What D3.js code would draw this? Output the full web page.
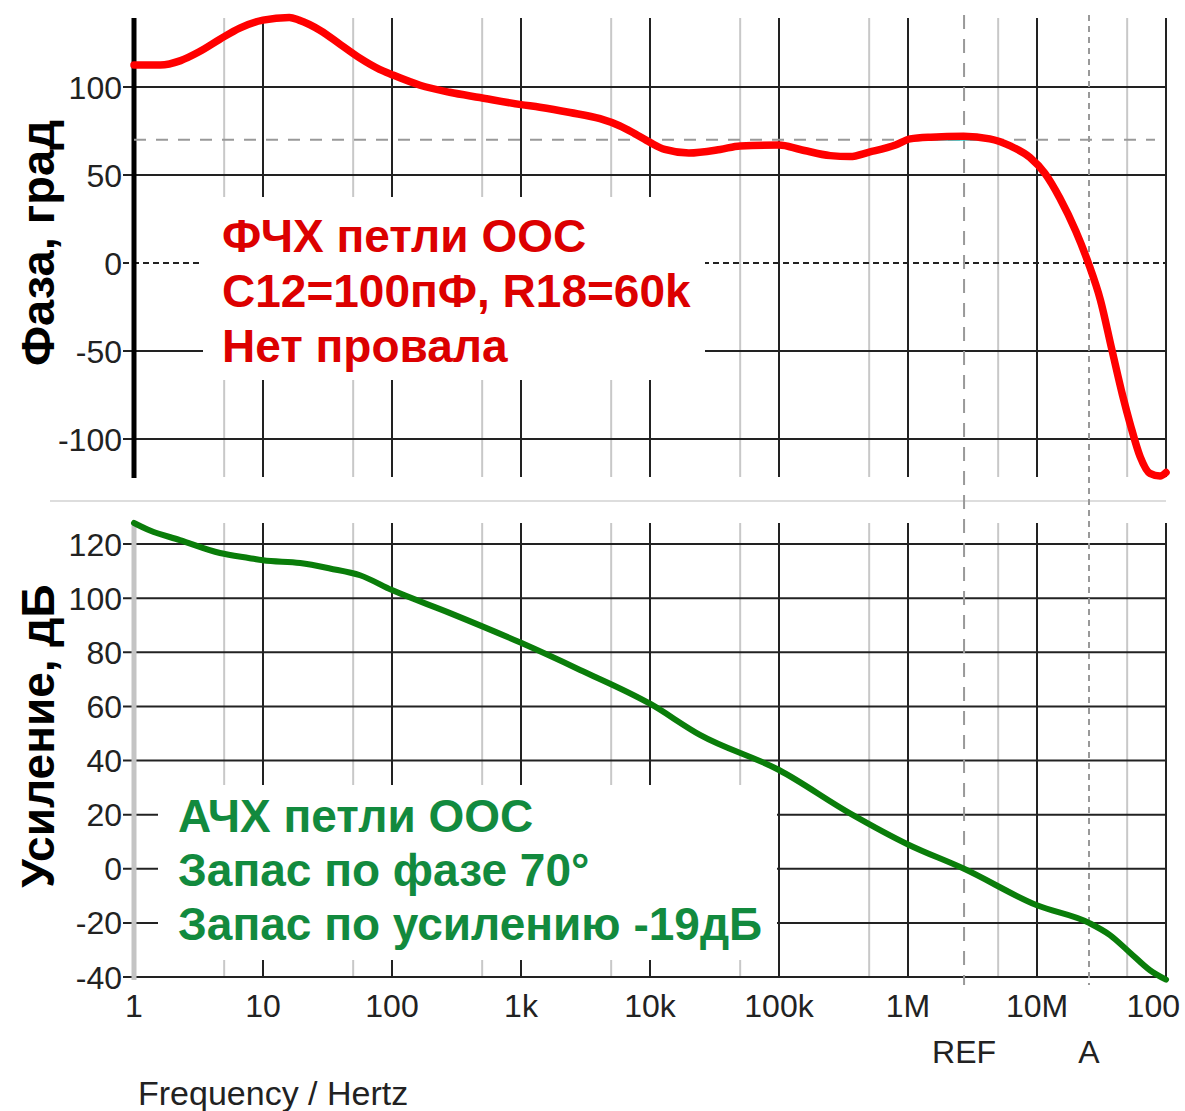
<!DOCTYPE html>
<html>
<head>
<meta charset="utf-8">
<script src="https://cdn.jsdelivr.net/npm/d3@7"></script>
<style>
  body { margin: 0; background: #fff; }
  svg { display: block; font-family: "Liberation Sans", Arial, sans-serif; }
</style>
</head>
<body>
<svg id="chart" width="1185" height="1111"></svg>
<script>
// phase of the feedback loop, degrees
const phaseFreq = [1, 1.6, 2.3, 3.2, 4.6, 6.6, 10, 16, 19, 28, 40, 56, 80, 100, 165, 280, 480,
  1000, 1400, 2400, 4100, 5800, 7600, 10000, 13000, 20000, 35000, 50000, 100000, 146000,
  250000, 355000, 500000, 800000, 1.04e6, 1.5e6, 2.7e6, 4.3e6, 6.2e6, 8.8e6, 1.15e7, 1.5e7,
  2e7, 2.5e7, 3.1e7, 3.8e7, 4.6e7, 5.3e7, 6.3e7, 7.5e7, 9e7, 1e8];
const phaseDeg = [112.5, 112.5, 115, 120, 127, 133.5, 138, 139.5, 138, 132, 124, 116.5, 110, 107, 101, 97, 94,
  90, 88.5, 85.5, 82, 78, 73.5, 68.5, 64.5, 62.5, 64.5, 66.5, 67, 64.5,
  61, 60.5, 63, 67, 70.5, 71.5, 72, 70.5, 66.5, 60, 51, 37,
  18, 0, -21, -49, -75, -92, -110, -119.5, -121, -119];

// gain of the feedback loop, dB
const gainFreq = [1, 1.33, 2.27, 4.64, 7.9, 10, 19.4, 33, 56.5, 100, 282, 1000, 2870, 10000, 24400,
  100000, 355000, 1e6, 2.72e6, 1e7, 2.53e7, 3.68e7, 5.26e7, 7.51e7, 1e8];
const gainDb = [127.8, 125, 121.5, 116.7, 114.8, 114, 113, 111, 108.5, 103, 94.5, 83.5, 73.5, 61, 49.5,
  36.5, 20.5, 9, 0, -13.5, -20, -24.5, -31, -37.5, -41];

const decadeTicks = [1, 10, 100, 1e3, 1e4, 1e5, 1e6, 1e7, 1e8];
const decadeLabels = ["1", "10", "100", "1k", "10k", "100k", "1M", "10M", "100"];
const minorTicks = [5, 50, 500, 5e3, 5e4, 5e5, 5e6, 5e7];
const phaseTicks = [-100, -50, 0, 50, 100];
const gainTicks = [-40, -20, 0, 20, 40, 60, 80, 100, 120];
const markerFreq = [2.72e6, 2.53e7];
const markerLabels = ["REF", "A"];
const phaseMarginDeg = 70;

const phaseNotes = ["ФЧХ петли ООС", "C12=100пФ, R18=60k", "Нет провала"];
const gainNotes = ["АЧХ петли ООС", "Запас по фазе 70°", "Запас по усилению -19дБ"];

const GRID = '#222';
const MINOR = '#c8c8c8';
const DASH = '#999';
const RED = '#ff0000';
const RED_TXT = '#dc0000';
const GREEN = '#0a7d0a';
const GREEN_TXT = '#128a3e';

const svg = d3.select("#chart");
const left = 134, right = 1166;

const x = d3.scaleLog().domain([1, 1e8]).range([left, right]);
const yP = d3.scaleLinear().domain([-121.6, 139.2]).range([477, 18]);
const yG = d3.scaleLinear().domain([-40, 127.8]).range([977, 523]);

svg.append("rect").attr("width", 1185).attr("height", 1111).attr("fill", "#fff");

function panel(y, ticks, top, bottom, dashedZero) {
    const g = svg.append("g");

    g.selectAll("line.minor").data(minorTicks).join("line")
        .attr("x1", d => x(d)).attr("x2", d => x(d))
        .attr("y1", top).attr("y2", bottom)
        .attr("stroke", MINOR).attr("stroke-width", 2);

    g.selectAll("line.major").data(decadeTicks).join("line")
        .attr("x1", d => x(d)).attr("x2", d => x(d))
        .attr("y1", top).attr("y2", bottom)
        .attr("stroke", GRID).attr("stroke-width", 2);

    g.selectAll("line.h").data(ticks).join("line")
        .attr("x1", left - 11).attr("x2", right)
        .attr("y1", d => y(d)).attr("y2", d => y(d))
        .attr("stroke", GRID).attr("stroke-width", 2)
        .attr("stroke-dasharray", d => (dashedZero && d === 0) ? "6,4" : null);

    g.selectAll("text").data(ticks).join("text")
        .attr("x", left - 12).attr("y", d => y(d))
        .attr("dy", "0.36em")
        .attr("text-anchor", "end")
        .attr("fill", "#222")
        .style("font-size", "32px")
        .text(d => d);
    return g;
}

panel(yP, phaseTicks, 18, 477, true);
panel(yG, gainTicks, 523, 977, false);

// left axes
svg.append("line").attr("x1", left).attr("x2", left).attr("y1", 18).attr("y2", 478)
    .attr("stroke", "#000").attr("stroke-width", 5);
svg.append("line").attr("x1", left).attr("x2", left).attr("y1", 523).attr("y2", 980)
    .attr("stroke", "#c4c4c4").attr("stroke-width", 5);

// panel separator
svg.append("line").attr("x1", 50).attr("x2", right).attr("y1", 501).attr("y2", 501)
    .attr("stroke", "#ddd").attr("stroke-width", 2);

// phase margin reference and cursors
svg.append("line")
    .attr("x1", left).attr("x2", 1155)
    .attr("y1", yP(phaseMarginDeg)).attr("y2", yP(phaseMarginDeg))
    .attr("stroke", DASH).attr("stroke-width", 2).attr("stroke-dasharray", "12,10");

svg.selectAll("line.marker").data(markerFreq).join("line")
    .attr("x1", d => x(d)).attr("x2", d => x(d))
    .attr("y1", 15).attr("y2", 985)
    .attr("stroke", DASH).attr("stroke-width", 2)
    .attr("stroke-dasharray", (d, i) => i === 0 ? "14,10" : "6,5");

svg.append("line")
    .attr("x1", x(1.05e6)).attr("x2", x(5e6))
    .attr("y1", yP(phaseMarginDeg)).attr("y2", yP(phaseMarginDeg))
    .attr("stroke", "#33dddd").attr("stroke-width", 2);

// white boxes behind the notes
svg.append("rect").attr("x", 203).attr("y", 197).attr("width", 502).attr("height", 183).attr("fill", "#fff");
svg.append("rect").attr("x", 158).attr("y", 785).attr("width", 619).attr("height", 175).attr("fill", "#fff");

const line = (y) => d3.line()
    .x(d => x(d[0]))
    .y(d => y(d[1]))
    .curve(d3.curveMonotoneX);

svg.append("path")
    .datum(d3.zip(phaseFreq, phaseDeg))
    .attr("fill", "none")
    .attr("stroke", RED).attr("stroke-width", 7.5)
    .attr("stroke-linejoin", "round").attr("stroke-linecap", "round")
    .attr("d", line(yP));

svg.append("path")
    .datum(d3.zip(gainFreq, gainDb))
    .attr("fill", "none")
    .attr("stroke", GREEN).attr("stroke-width", 6)
    .attr("stroke-linejoin", "round").attr("stroke-linecap", "round")
    .attr("d", line(yG));

// x tick labels
svg.selectAll("text.xt").data(decadeTicks).join("text")
    .attr("x", (d, i) => i === decadeTicks.length - 1 ? 1180 : x(d))
    .attr("y", 1017)
    .attr("text-anchor", (d, i) => i === decadeTicks.length - 1 ? "end" : "middle")
    .attr("fill", "#222")
    .style("font-size", "32px")
    .text((d, i) => decadeLabels[i]);

svg.selectAll("text.mk").data(markerFreq).join("text")
    .attr("x", d => x(d)).attr("y", 1063)
    .attr("text-anchor", "middle")
    .attr("fill", "#222")
    .style("font-size", "32px")
    .text((d, i) => markerLabels[i]);

svg.append("text")
    .attr("x", 138).attr("y", 1105)
    .attr("fill", "#222")
    .style("font-size", "34px")
    .text("Frequency / Hertz");

// axis titles
svg.append("text")
    .attr("transform", "translate(54,243) rotate(-90)")
    .attr("text-anchor", "middle")
    .attr("fill", "#000")
    .style("font-size", "47px").style("font-weight", "bold")
    .text("Фаза, град");

svg.append("text")
    .attr("transform", "translate(54,736) rotate(-90)")
    .attr("text-anchor", "middle")
    .attr("fill", "#000")
    .style("font-size", "46px").style("font-weight", "bold")
    .text("Усиление, дБ");

// notes
svg.selectAll("text.pn").data(phaseNotes).join("text")
    .attr("x", 222).attr("y", (d, i) => 252 + i * 55)
    .attr("fill", RED_TXT)
    .style("font-size", "46px").style("font-weight", "bold")
    .text(d => d);

svg.selectAll("text.gn").data(gainNotes).join("text")
    .attr("x", 178).attr("y", (d, i) => 832 + i * 54)
    .attr("fill", GREEN_TXT)
    .style("font-size", "46px").style("font-weight", "bold")
    .text(d => d);
</script>
</body>
</html>
